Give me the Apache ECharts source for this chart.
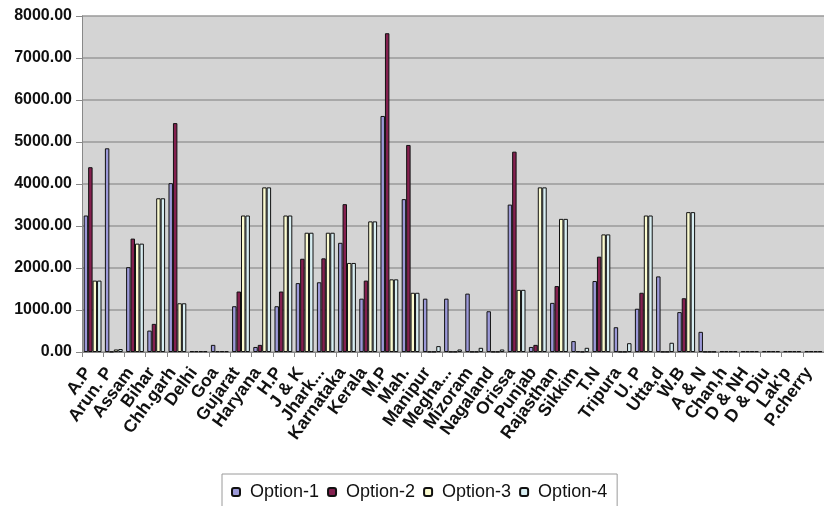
<!DOCTYPE html>
<html>
<head>
<meta charset="utf-8">
<script src="https://cdn.jsdelivr.net/npm/echarts@6/dist/echarts.min.js"></script>
<style>
html,body{margin:0;padding:0;background:#fff;}
#c{width:824px;height:506px;}
</style>
</head>
<body>
<div id="c"></div>
<script>
const categories = ['A.P','Arun. P','Assam','Bihar','Chh.garh','Delhi','Goa','Gujarat','Haryana','H.P','J & K','Jhark...','Karnataka','Kerala','M.P','Mah.','Manipur','Megha...','Mizoram','Nagaland','Orissa','Punjab','Rajasthan','Sikkim','T.N','Tripura','U. P','Utta,d','W.B','A & N','Chan,h','D & NH','D & Diu',"Lak'p",'P.cherry'];
const option1 = [3250,4850,2020,510,4020,20,170,1090,120,1090,1640,1660,2600,1270,5620,3640,1270,1270,1390,970,3510,120,1170,260,1690,590,1030,1800,950,480,20,20,20,20,20];
const option2 = [4400,10,2700,670,5450,20,20,1440,170,1440,2220,2230,3520,1700,7590,4930,10,10,10,10,4770,170,1570,20,2270,10,1410,10,1280,10,20,20,20,20,20];
const option3 = [1700,60,2580,3660,1160,20,20,3250,3920,3250,2840,2840,2120,3110,1730,1410,10,10,10,10,1480,3920,3170,10,2800,10,3250,10,3330,10,20,20,20,20,20];
const option4 = [1700,70,2580,3660,1160,20,20,3250,3920,3250,2840,2840,2120,3110,1730,1410,140,60,100,60,1480,3920,3170,100,2800,210,3250,220,3330,10,20,20,20,20,20];
const seriesNames = ['Option-1','Option-2','Option-3','Option-4'];
const yTicks = [0,1000,2000,3000,4000,5000,6000,7000,8000];

const colors = ['#9c99d8','#84204f','#fbfbcf','#d8eef2'];
const dataSets = [option1, option2, option3, option4];

const chart = echarts.init(document.getElementById('c'), null, {renderer:'canvas'});
chart.setOption({
  animation:false,
  backgroundColor:'#ffffff',
  grid:{left:82,right:0,top:16,bottom:154,show:true,backgroundColor:'#d4d4d4',borderWidth:0},
  legend:{
    data:seriesNames, top:474, left:222,
    borderColor:'#9a9a9a', borderWidth:1, padding:[9,10,12,9],
    itemWidth:8, itemHeight:8, itemGap:8,
    textStyle:{fontFamily:'Liberation Sans, Arial, sans-serif', fontSize:18, color:'#111', padding:[0,0,0,5]}
  },
  xAxis:{
    type:'category', data:categories, boundaryGap:true,
    axisLine:{lineStyle:{color:'#888',width:1}},
    axisTick:{show:true,length:5,lineStyle:{color:'#888'}},
    axisLabel:{interval:0, rotate:54, margin:11, color:'#111', padding:[0,8,0,0],
      fontFamily:'Liberation Sans, Arial, sans-serif', fontWeight:'bold', fontSize:17.5}
  },
  yAxis:{
    type:'value', min:yTicks[0], max:yTicks[yTicks.length-1], interval:1000,
    axisLine:{show:true,lineStyle:{color:'#888'}},
    axisTick:{show:true,length:6,lineStyle:{color:'#888'}},
    splitLine:{lineStyle:{color:'#9a9a9a',width:1.5}},
    axisLabel:{formatter:v=>v.toFixed(2), margin:10, color:'#111',
      fontFamily:'Liberation Sans, Arial, sans-serif', fontWeight:'bold', fontSize:16}
  },
  series: seriesNames.map((n,i)=>({
    name:n, type:'bar', data:dataSets[i],
    barGap:'0%', barCategoryGap:'16%',
    itemStyle:{color:colors[i], borderColor:'#111', borderWidth:1}
  }))
});
</script>
</body>
</html>
